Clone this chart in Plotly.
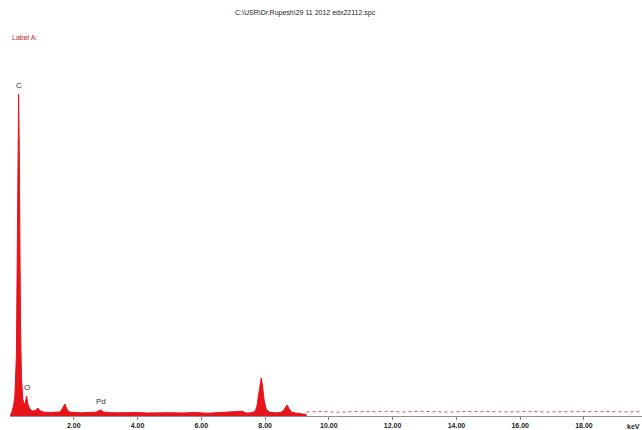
import plotly.graph_objects as go

# Spectrum (energy keV, counts)
energy = [0.00, 0.05, 0.10, 0.15, 0.20, 0.23, 0.25, 0.27, 0.29, 0.31, 0.33, 0.36, 0.40,
          0.44, 0.48, 0.52, 0.56, 0.62, 0.70, 0.80, 0.87, 0.95, 1.05, 1.20, 1.40, 1.55,
          1.62, 1.67, 1.72, 1.77, 1.83, 1.92, 2.05, 2.25, 2.50, 2.70, 2.80, 2.86, 2.93,
          3.10, 3.40, 3.70, 4.00, 4.30, 4.60, 5.00, 5.40, 5.80, 6.20, 6.60, 6.90, 7.15,
          7.28, 7.40, 7.55, 7.68, 7.74, 7.79, 7.84, 7.88, 7.92, 7.97, 8.03, 8.12, 8.30,
          8.48, 8.58, 8.64, 8.69, 8.75, 8.82, 8.95, 9.10, 9.30]
counts = [0, 30, 90, 180, 600, 1500, 2600, 3220, 2700, 1700, 900, 380, 170,
          120, 130, 200, 120, 70, 50, 55, 80, 50, 40, 35, 38, 40,
          60, 100, 120, 80, 45, 38, 35, 32, 36, 38, 55, 60, 40,
          34, 32, 36, 35, 30, 34, 33, 30, 35, 28, 34, 40, 45,
          48, 30, 32, 45, 90, 200, 330, 380, 300, 160, 70, 40, 32,
          35, 55, 90, 110, 75, 40, 30, 22, 15]

# Low-level noise beyond ~9.3 keV
noise_energy = [9.3, 9.8, 10.3, 10.8, 11.3, 11.8, 12.3, 12.8, 13.3, 13.8, 14.3, 14.8,
                15.3, 15.8, 16.3, 16.8, 17.3, 17.8, 18.3, 18.8, 19.3, 19.8]
noise_counts = [40, 45, 38, 44, 42, 46, 40, 47, 43, 39, 45, 42,
                44, 41, 46, 40, 43, 45, 42, 44, 41, 43]

tick_vals = [2, 4, 6, 8, 10, 12, 14, 16, 18]
tick_text = ["2.00", "4.00", "6.00", "8.00", "10.00", "12.00", "14.00", "16.00", "18.00"]

peak_labels = ["C", "O", "Pd"]
peak_energy = [0.27, 0.52, 2.84]
peak_counts = [3220, 200, 60]

RED = "#e8141c"
FONT = "Liberation Sans"

fig = go.Figure()
fig.add_trace(go.Scatter(x=energy, y=counts, mode="lines", fill="tozeroy",
                         line=dict(color=RED, width=1), fillcolor=RED,
                         hoverinfo="skip", showlegend=False))
fig.add_trace(go.Scatter(x=noise_energy, y=noise_counts, mode="lines",
                         line=dict(color="#d05060", width=1, dash="dot"),
                         hoverinfo="skip", showlegend=False))

for lab, e, c in zip(peak_labels, peak_energy, peak_counts):
    fig.add_annotation(x=e, y=c, text=lab, showarrow=False, yanchor="bottom",
                       yshift=2, font=dict(size=8, color="#333333", family=FONT))

fig.add_annotation(xref="paper", yref="paper", x=0.467, y=1.072,
                   text="C:\\USR\\Dr.Rupesh\\29 11 2012 edx22112.spc",
                   showarrow=False, xanchor="center", yanchor="middle",
                   font=dict(size=7, color="#222222", family=FONT))
fig.add_annotation(xref="paper", yref="paper", x=0.0, y=1.006, text="Label A:",
                   showarrow=False, xanchor="left", yanchor="middle",
                   font=dict(size=7, color="#c0282c", family=FONT))
fig.add_annotation(xref="paper", yref="paper", x=1.0, y=-0.012, text="keV",
                   showarrow=False, xanchor="right", yanchor="top",
                   font=dict(size=7, color="#222222", family=FONT, weight="bold"))

fig.update_layout(
    width=642, height=430,
    margin=dict(l=10, r=0, t=40, b=14, autoexpand=False),
    paper_bgcolor="white", plot_bgcolor="white",
    xaxis=dict(range=[0, 19.82], tickvals=tick_vals, ticktext=tick_text,
               showgrid=False, zeroline=False, showline=True, linecolor="#909090",
               linewidth=1, ticks="outside", ticklen=3, tickcolor="#808080",
               tickfont=dict(size=7, color="#222222", family=FONT, weight="bold")),
    yaxis=dict(range=[0, 3760], visible=False, showgrid=False, zeroline=False),
)

fig.write_html("out.html", config={"displayModeBar": False, "staticPlot": True},
               post_script="document.body.style.margin='0';document.body.style.overflow='hidden';")
